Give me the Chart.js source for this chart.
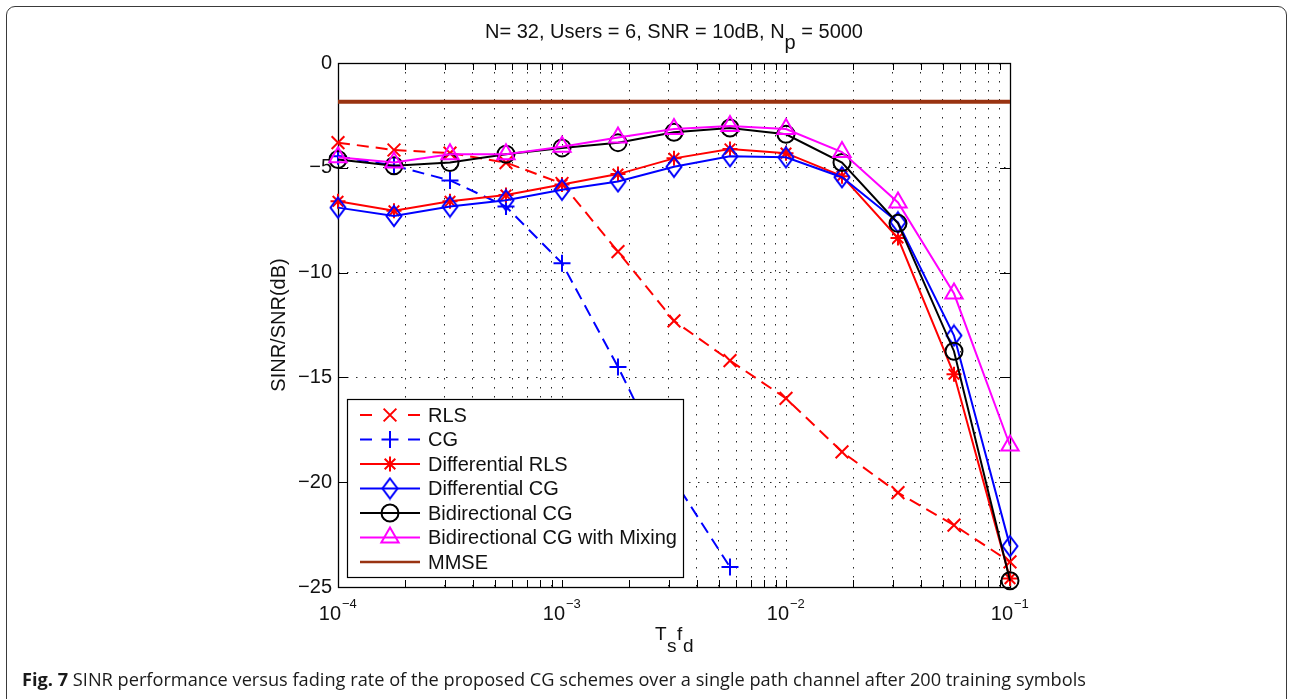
<!DOCTYPE html>
<html><head><meta charset="utf-8">
<script src="https://cdn.jsdelivr.net/npm/chart.js@4.4.0/dist/chart.umd.min.js"></script>
<style>
html,body{margin:0;padding:0;background:#fff;overflow:hidden}
#wrap{position:relative;width:1292px;height:699px}
#frame{position:absolute;left:6px;top:6px;width:1281px;height:740px;border:1.5px solid #3a3a3a;border-radius:9px;box-sizing:border-box}
#cap{position:absolute;left:22px;top:668px;font-family:"Open Sans","Noto Sans",sans-serif;font-size:18.2px;line-height:22px;color:#1a1a1a;white-space:nowrap}
#cap b{font-weight:700}
canvas{position:absolute;left:0;top:0}
</style></head><body>
<div id="wrap"><div id="frame"></div><canvas id="c" width="1292" height="699"></canvas>
<div id="cap"><b>Fig. 7</b> SINR performance versus fading rate of the proposed CG schemes over a single path channel after 200 training symbols</div></div>
<script>
// ---- data ----
const fadingRate = [1e-4, 1.778e-4, 3.162e-4, 5.623e-4, 1e-3, 1.778e-3, 3.162e-3, 5.623e-3, 1e-2, 1.778e-2, 3.162e-2, 5.623e-2, 1e-1];
const rls      = [-3.8, -4.15, -4.3, -4.75, -5.75, -9.0, -12.3, -14.2, -16.0, -18.55, -20.5, -22.05, -23.8];
const cg       = [-4.45, -4.9, -5.6, -6.85, -9.55, -14.5, -19.9, -24.05];
const diffRls  = [-6.6, -7.05, -6.6, -6.3, -5.8, -5.3, -4.55, -4.1, -4.3, -5.4, -8.35, -14.85, -24.6];
const diffCg   = [-6.9, -7.3, -6.85, -6.55, -6.05, -5.65, -4.95, -4.45, -4.5, -5.45, -7.6, -13.0, -23.05];
const biCg     = [-4.6, -4.9, -4.75, -4.35, -4.05, -3.8, -3.3, -3.1, -3.4, -4.75, -7.65, -13.75, -24.7];
const biCgMix  = [-4.5, -4.75, -4.35, -4.35, -4.0, -3.55, -3.15, -3.0, -3.15, -4.25, -6.65, -11.0, -18.25];
const mmseX    = [1e-4, 1e-1];
const mmse     = [-1.85, -1.85];
const seriesNames = ["RLS", "CG", "Differential RLS", "Differential CG", "Bidirectional CG", "Bidirectional CG with Mixing", "MMSE"];
const yTicks = [0, -5, -10, -15, -20, -25];
const xExponents = [-4, -3, -2, -1];
const titleMain = "N= 32, Users = 6, SNR = 10dB, N";
const titleSub = "p";
const titleRest = " = 5000";
const yLabel = "SINR/SNR(dB)";

// ---- helpers ----
const FONT = '"Liberation Sans", Arial, sans-serif';
const xTickVals = [];
xExponents.slice(0, -1).forEach(e => { for (let m = 1; m <= 9; m++) xTickVals.push(m * Math.pow(10, e)); });
xTickVals.push(Math.pow(10, xExponents[xExponents.length - 1]));

function pts(xs, ys) {
  const out = [];
  for (let i = 0; i < xs.length; i++) if (ys[i] !== undefined && ys[i] !== null) out.push({x: xs[i], y: ys[i]});
  return out;
}
function diamondImg(color) {
  const c = document.createElement('canvas');
  c.width = 20; c.height = 24;
  const g = c.getContext('2d');
  g.strokeStyle = color; g.lineWidth = 2;
  g.beginPath(); g.moveTo(10, 2); g.lineTo(17.5, 12); g.lineTo(10, 22); g.lineTo(2.5, 12); g.closePath(); g.stroke();
  return c;
}
const diamond = diamondImg('#0000ff');

function drawMarker(ctx, style, r, x, y, color) {
  ctx.save();
  ctx.strokeStyle = color; ctx.lineWidth = 2; ctx.setLineDash([]);
  ctx.beginPath();
  const d = Math.SQRT1_2 * r;
  if (style === 'crossRot' || style === 'star') {
    ctx.moveTo(x - d, y - d); ctx.lineTo(x + d, y + d);
    ctx.moveTo(x - d, y + d); ctx.lineTo(x + d, y - d);
  }
  if (style === 'cross' || style === 'star') {
    ctx.moveTo(x - r, y); ctx.lineTo(x + r, y);
    ctx.moveTo(x, y - r); ctx.lineTo(x, y + r);
  }
  if (style === 'circle') ctx.arc(x, y, r, 0, Math.PI * 2);
  if (style === 'triangle') {
    ctx.moveTo(x, y - r);
    ctx.lineTo(x + 0.866 * r, y + 0.5 * r);
    ctx.lineTo(x - 0.866 * r, y + 0.5 * r);
    ctx.closePath();
  }
  ctx.stroke();
  if (style === 'diamond') ctx.drawImage(diamond, x - 10, y - 12);
  ctx.restore();
}

const defs = [
  {label: seriesNames[0], data: pts(fadingRate, rls),     color: '#ff0000', dash: [12, 7], style: 'crossRot', r: 9, order: 6},
  {label: seriesNames[1], data: pts(fadingRate, cg),      color: '#0000ff', dash: [12, 7], style: 'cross',    r: 8.5, order: 5},
  {label: seriesNames[2], data: pts(fadingRate, diffRls), color: '#ff0000', dash: [],      style: 'star',     r: 7.5, order: 4},
  {label: seriesNames[3], data: pts(fadingRate, diffCg),  color: '#0000ff', dash: [],      style: 'diamond',  r: 10, order: 3},
  {label: seriesNames[4], data: pts(fadingRate, biCg),    color: '#000000', dash: [],      style: 'circle',   r: 8.5, order: 2},
  {label: seriesNames[5], data: pts(fadingRate, biCgMix), color: '#ff00ff', dash: [],      style: 'triangle', r: 10, order: 1},
  {label: seriesNames[6], data: pts(mmseX, mmse),         color: '#993311', dash: [],      style: null,       r: 0, order: 0, width: 4, legendWidth: 2.5}
];

const datasets = defs.map(d => ({
  label: d.label,
  data: d.data,
  order: d.order,
  borderColor: d.color,
  borderWidth: d.width || 2,
  borderDash: d.dash,
  pointStyle: d.style === 'diamond' ? diamond : (d.style || false),
  pointRadius: d.style ? d.r : 0,
  pointBorderColor: d.color,
  pointBackgroundColor: 'rgba(0,0,0,0)',
  pointBorderWidth: 2,
  tension: 0,
  fill: false,
  clip: false,
  spanGaps: false
}));

const deco = {
  id: 'deco',
  beforeDatasetsDraw(chart) {
    const {ctx, chartArea: a, scales} = chart;
    ctx.save();
    ctx.strokeStyle = '#000'; ctx.lineWidth = 1; ctx.setLineDash([]);
    ctx.beginPath();
    xTickVals.forEach(v => {
      const px = Math.round(scales.x.getPixelForValue(v)) + 0.5;
      const len = 7;
      ctx.moveTo(px, a.bottom); ctx.lineTo(px, a.bottom - len);
      ctx.moveTo(px, a.top); ctx.lineTo(px, a.top + len);
    });
    yTicks.forEach(v => {
      const py = Math.round(scales.y.getPixelForValue(v)) + 0.5;
      ctx.moveTo(a.left, py); ctx.lineTo(a.left + 10, py);
      ctx.moveTo(a.right, py); ctx.lineTo(a.right - 10, py);
    });
    ctx.stroke();
    ctx.lineWidth = 1.3;
    ctx.strokeRect(Math.round(a.left) + 0.5, Math.round(a.top) + 0.5, Math.round(a.right - a.left), Math.round(a.bottom - a.top));
    ctx.restore();
  },
  afterDatasetsDraw(chart) {
    const ctx = chart.ctx;
    ctx.save();
    const bx = 347, by = 399, bw = 336, bh = 178;
    ctx.fillStyle = '#fff'; ctx.fillRect(bx, by, bw, bh);
    ctx.strokeStyle = '#000'; ctx.lineWidth = 1.2; ctx.setLineDash([]);
    ctx.strokeRect(bx + 0.5, by + 0.5, bw, bh);
    ctx.font = '20px ' + FONT; ctx.fillStyle = '#111'; ctx.textBaseline = 'middle'; ctx.textAlign = 'left';
    defs.forEach((d, i) => {
      const y = 415 + i * 24.5;
      ctx.strokeStyle = d.color; ctx.lineWidth = d.legendWidth || d.width || 2; ctx.setLineDash([]);
      ctx.beginPath();
      if (d.dash.length) {
        ctx.moveTo(360, y); ctx.lineTo(372, y); ctx.moveTo(408, y); ctx.lineTo(420, y);
      } else {
        ctx.moveTo(360, y); ctx.lineTo(420, y);
      }
      ctx.stroke();
      if (d.style) drawMarker(ctx, d.style, d.r, 390, y, d.color);
      ctx.fillStyle = '#111';
      ctx.fillText(d.label, 428, y + 1);
    });
    ctx.restore();
  },
  afterDraw(chart) {
    const {ctx, scales} = chart;
    ctx.save();
    ctx.fillStyle = '#111'; ctx.textBaseline = 'alphabetic';
    ctx.font = '20px ' + FONT;
    const w1 = ctx.measureText(titleMain).width, w2 = ctx.measureText(titleSub).width, w3 = ctx.measureText(titleRest).width;
    let tx = 674 - (w1 + w2 + w3) / 2;
    ctx.textAlign = 'left';
    ctx.fillText(titleMain, tx, 38);
    ctx.fillText(titleSub, tx + w1, 49);
    ctx.fillText(titleRest, tx + w1 + w2, 38);
    xExponents.forEach(e => {
      const px = scales.x.getPixelForValue(Math.pow(10, e));
      ctx.font = '20px ' + FONT; ctx.textAlign = 'right';
      ctx.fillText('10', px + 3, 620);
      ctx.font = '13px ' + FONT; ctx.textAlign = 'left';
      ctx.fillText('\u2212' + Math.abs(e), px + 4, 608);
    });
    ctx.font = '19px ' + FONT; ctx.textAlign = 'left';
    let lx = 655;
    const parts = [['T', 0], ['s', 12], ['f', 0], ['d', 12]];
    parts.forEach(p => { ctx.fillText(p[0], lx, 640 + p[1]); lx += ctx.measureText(p[0]).width + 0.5; });
    ctx.translate(285, 325); ctx.rotate(-Math.PI / 2);
    ctx.font = '20px ' + FONT; ctx.textAlign = 'center';
    ctx.fillText(yLabel, 0, 0);
    ctx.restore();
  }
};

new Chart(document.getElementById('c').getContext('2d'), {
  type: 'line',
  data: {datasets},
  options: {
    responsive: false, animation: false, events: [],
    layout: {padding: {top: 63, right: 282, left: 0, bottom: 0}},
    plugins: {legend: {display: false}, title: {display: false}, tooltip: {enabled: false}},
    scales: {
      x: {
        type: 'logarithmic', min: 1e-4, max: 1e-1,
        afterBuildTicks: s => { s.ticks = xTickVals.map(v => ({value: v})); },
        afterFit: s => { s.height = 112; },
        ticks: {display: false},
        grid: {color: 'rgba(0,0,0,0.85)', lineWidth: 1, drawTicks: false},
        border: {display: false, dash: [1.5, 7.5]}
      },
      y: {
        type: 'linear', min: -25, max: 0,
        afterBuildTicks: s => { s.ticks = yTicks.map(v => ({value: v})); },
        afterFit: s => { s.width = 338; },
        ticks: {padding: 6, color: '#111', font: {family: FONT, size: 20},
          callback: v => v < 0 ? '\u2212' + Math.abs(v) : String(v)},
        grid: {color: 'rgba(0,0,0,0.85)', lineWidth: 1, drawTicks: false},
        border: {display: false, dash: [1.5, 7.5]}
      }
    }
  },
  plugins: [deco]
});
</script>
</body></html>
